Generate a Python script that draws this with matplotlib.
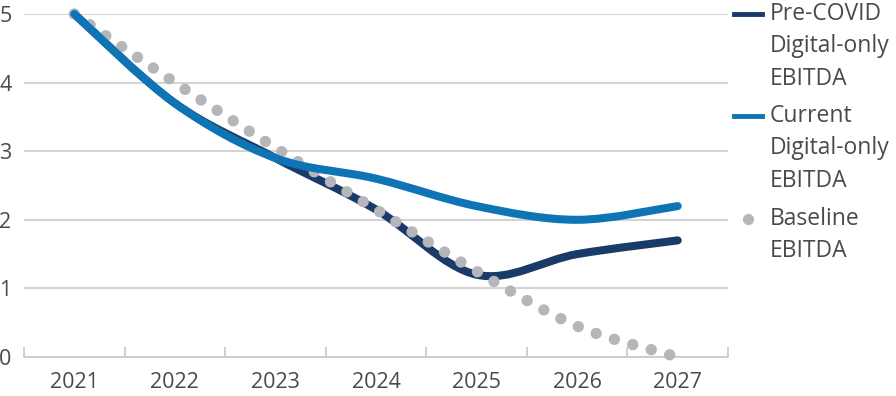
import numpy as np
import matplotlib
matplotlib.use('Agg')
import matplotlib.pyplot as plt
from matplotlib.path import Path
from matplotlib.patches import PathPatch
from matplotlib.lines import Line2D

plt.rcParams['font.family'] = ['Open Sans', 'DejaVu Sans']

# values
years = ['2021', '2022', '2023', '2024', '2025', '2026', '2027']
pre_covid = [5.0, 3.7, 2.9, 2.15, 1.2, 1.5, 1.7]
current = [5.0, 3.7, 2.9, 2.6, 2.2, 2.0, 2.2]
baseline = [5.0, 4.0, 3.05, 2.15, 1.25, 0.45, 0.0]
y_ticks = [0, 1, 2, 3, 4, 5]

labels = ['Pre-COVID\nDigital-only\nEBITDA',
          'Current\nDigital-only\nEBITDA',
          'Baseline\nEBITDA']

NAVY = '#1a3a68'
BLUE = '#0f74b5'
GREY = '#b4b6b9'
TEXT = '#4a4a4a'
GRID = '#d4d4d4'


def smooth_path(ys):
    # Excel-like smoothed line: cubic bezier through each point
    pts = np.column_stack([np.arange(len(ys)), ys]).astype(float)
    n = len(pts)
    verts = [pts[0]]
    codes = [Path.MOVETO]
    for i in range(n - 1):
        p0 = pts[max(i - 1, 0)]
        p1 = pts[i]
        p2 = pts[i + 1]
        p3 = pts[min(i + 2, n - 1)]
        verts += [p1 + (p2 - p0) / 6, p2 - (p3 - p1) / 6, p2]
        codes += [Path.CURVE4] * 3
    return Path(verts, codes)


fig = plt.figure(figsize=(8.96, 3.96), dpi=100)
ax = fig.add_axes([24 / 896, 1 - 357 / 396, 704 / 896, 343 / 396])

ax.add_patch(PathPatch(smooth_path(pre_covid), fill=False, edgecolor=NAVY,
                       linewidth=5.8, capstyle='round', joinstyle='round',
                       zorder=3, clip_on=False))
ax.add_patch(PathPatch(smooth_path(baseline), fill=False, edgecolor=GREY,
                       linewidth=8.2, linestyle=(0, (0.001, 1.68)),
                       capstyle='round', zorder=4, clip_on=False))
ax.add_patch(PathPatch(smooth_path(current), fill=False, edgecolor=BLUE,
                       linewidth=5.8, capstyle='round', joinstyle='round',
                       zorder=5, clip_on=False))

ax.set_xlim(-0.5, len(years) - 0.5)
ax.set_ylim(0, 5)
ax.set_yticks(y_ticks)
ax.set_yticklabels([str(v) for v in y_ticks])
ax.set_xticks(np.arange(len(years)))
ax.set_xticklabels(years)
ax.set_xticks(np.arange(len(years) + 1) - 0.5, minor=True)

ax.grid(axis='y', color=GRID, linewidth=1.5, zorder=0)
ax.set_axisbelow(True)
for side in ['left', 'right', 'top']:
    ax.spines[side].set_visible(False)
ax.spines['bottom'].set_color('#c8c8c8')
ax.spines['bottom'].set_linewidth(1.2)

ax.tick_params(axis='y', length=0, pad=9, labelsize=15.5, labelcolor=TEXT)
ax.tick_params(axis='x', which='major', length=0, pad=11, labelsize=15.5,
               labelcolor=TEXT)
ax.tick_params(axis='x', which='minor', direction='in', length=7,
               width=1.2, color='#c8c8c8')

# legend, handle aligned with the first text line
leg_y = [14, 116, 219]
leg_top = [2, 104, 207]
for i, lab in enumerate(labels):
    yf = 1 - leg_y[i] / 396
    if i < 2:
        color = NAVY if i == 0 else BLUE
        fig.add_artist(Line2D([734 / 896, 762 / 896], [yf, yf], color=color,
                              linewidth=3.5, transform=fig.transFigure))
    else:
        fig.add_artist(Line2D([748 / 896], [yf], marker='o', markersize=7,
                              color=GREY, linestyle='none',
                              transform=fig.transFigure))
    fig.text(770 / 896, 1 - leg_top[i] / 396, lab, ha='left', va='top',
             fontsize=16.5, color=TEXT, linespacing=1.47)

fig.savefig('out.png', dpi=100)
